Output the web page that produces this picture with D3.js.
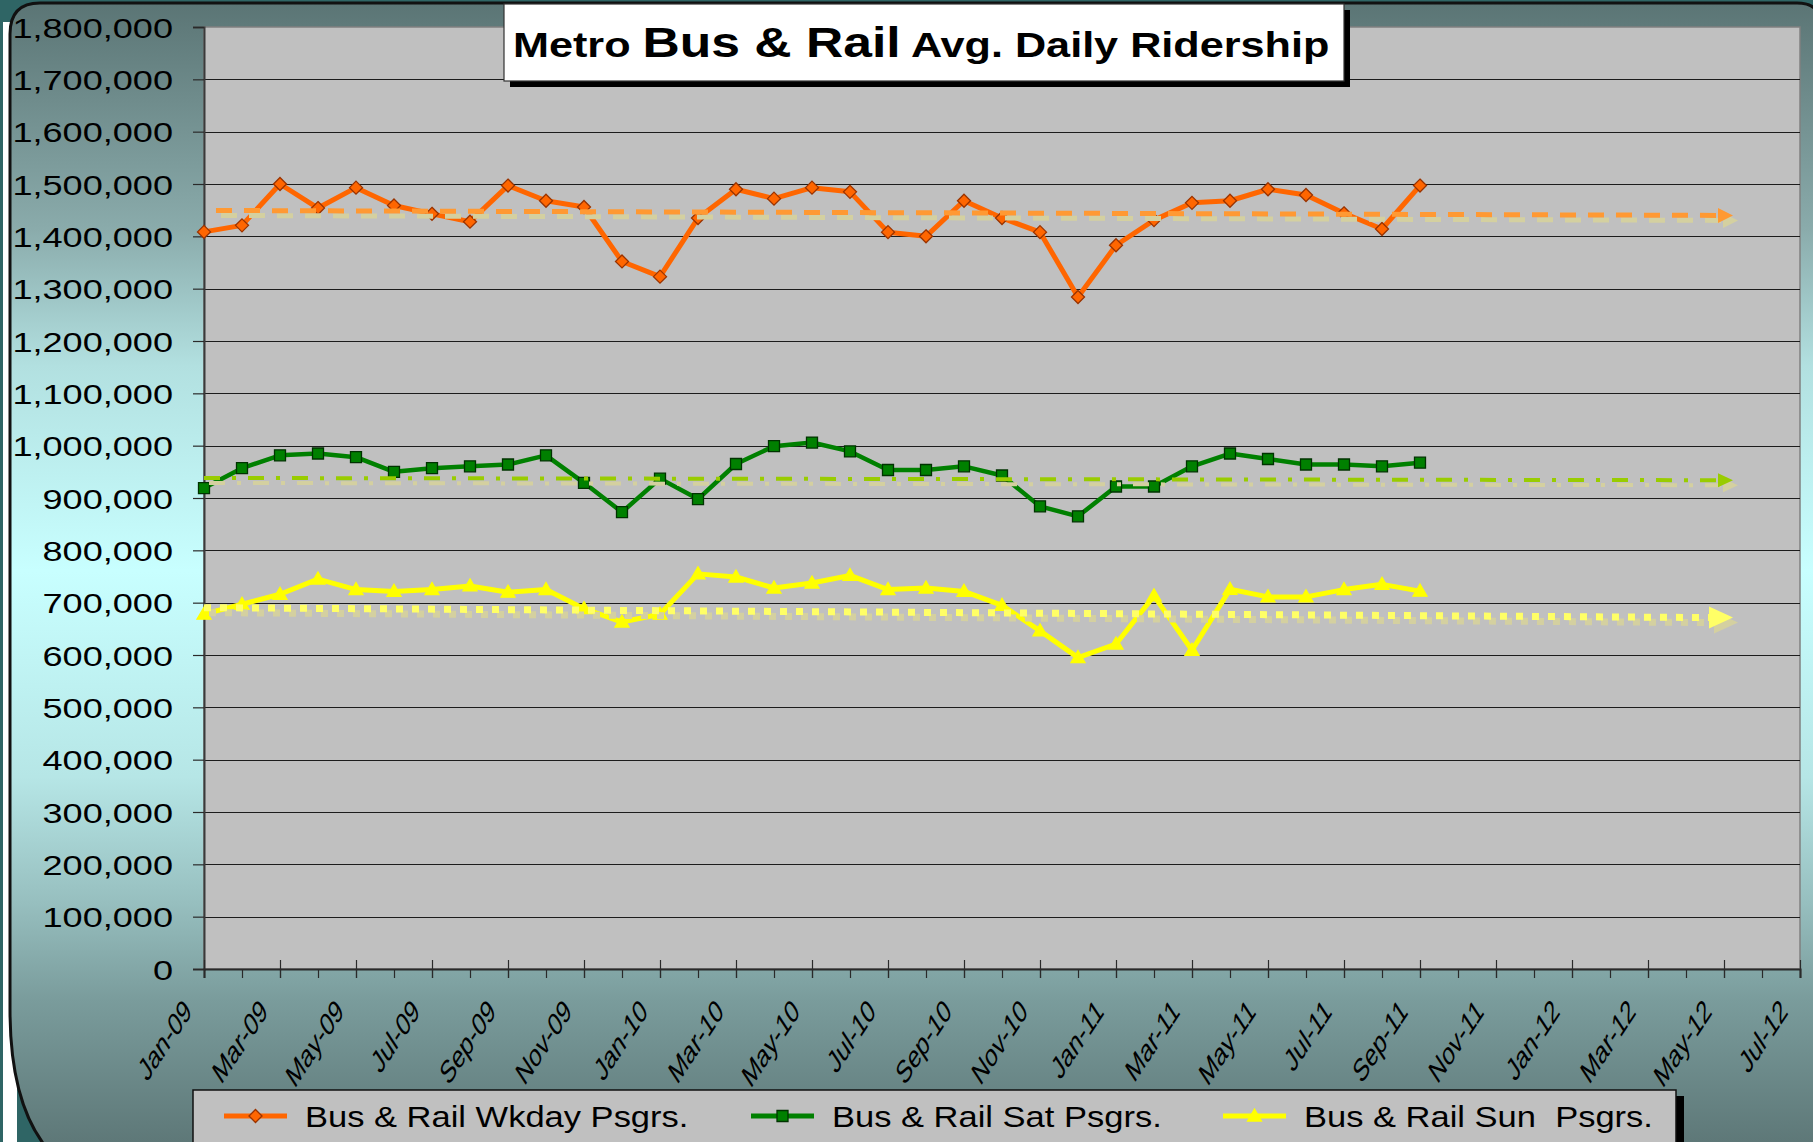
<!DOCTYPE html>
<html>
<head>
<meta charset="utf-8">
<script src="https://cdn.jsdelivr.net/npm/d3@7"></script>
<style>
  html, body { margin: 0; padding: 0; background: #2f6565; }
  svg { display: block; }
  text { font-family: "Liberation Sans", Arial, sans-serif; fill: #000; }
</style>
</head>
<body>
<div id="chart"></div>
<script>
// month categories on the date axis (Jan-09 .. Jul-12)
const axisMonths = [
  "Jan-09", "Feb-09", "Mar-09", "Apr-09", "May-09", "Jun-09", "Jul-09", "Aug-09", "Sep-09", "Oct-09", "Nov-09", "Dec-09",
  "Jan-10", "Feb-10", "Mar-10", "Apr-10", "May-10", "Jun-10", "Jul-10", "Aug-10", "Sep-10", "Oct-10", "Nov-10", "Dec-10",
  "Jan-11", "Feb-11", "Mar-11", "Apr-11", "May-11", "Jun-11", "Jul-11", "Aug-11", "Sep-11", "Oct-11", "Nov-11", "Dec-11",
  "Jan-12", "Feb-12", "Mar-12", "Apr-12", "May-12", "Jun-12", "Jul-12",
];
const tickLabels = [
  "Jan-09", "Mar-09", "May-09", "Jul-09", "Sep-09", "Nov-09",
  "Jan-10", "Mar-10", "May-10", "Jul-10", "Sep-10", "Nov-10",
  "Jan-11", "Mar-11", "May-11", "Jul-11", "Sep-11", "Nov-11",
  "Jan-12", "Mar-12", "May-12", "Jul-12",
];
const yTicks = [0, 100000, 200000, 300000, 400000, 500000, 600000, 700000, 800000, 900000,
  1000000, 1100000, 1200000, 1300000, 1400000, 1500000, 1600000, 1700000, 1800000];

// observed months
const dataMonths = axisMonths.slice(0, 33);

const wkdayRiders = [1408500, 1421000, 1500000, 1454000, 1493000, 1459000, 1443000, 1428000, 1497000, 1468000, 1456000,
  1352000, 1323000, 1435000, 1490000, 1472000, 1493000, 1485000, 1408000, 1400000, 1468000, 1435000, 1408000,
  1284000, 1383000, 1431000, 1464000, 1468000, 1490000, 1479000, 1444000, 1414000, 1497000];
const satRiders = [919000, 957000, 981500, 985000, 978000, 950000, 957000, 960500, 964000, 981500, 929000,
  873000, 937000, 898000, 965000, 999000, 1006000, 989000, 953500, 953500, 960500, 943000, 884000,
  865000, 922000, 922000, 960500, 985000, 974500, 964000, 964000, 960500, 967500];
const sunRiders = [678000, 697000, 716000, 745000, 725000, 721500, 725000, 732000, 720000, 725000, 688500,
  663000, 678000, 755000, 749000, 728000, 737500, 752000, 725000, 728000, 721500, 695000, 646000,
  595000, 621000, 713000, 609000, 725500, 711000, 711000, 725000, 735000, 722000];

// linear trend lines, start and end values
const trendMonths = ["Jan-09", "May-12"];
const wkdayTrend = [1449500, 1440000];
const satTrend = [938300, 934000];
const sunTrend = [690500, 671500];

const seriesNames = ["Bus & Rail Wkday Psgrs.", "Bus & Rail Sat Psgrs.", "Bus & Rail Sun  Psgrs."];

const W = 1813, H = 1142;
const plot = { left: 204, right: 1800, top: 27, bottom: 969 };

const svg = d3.select("#chart").append("svg").attr("width", W).attr("height", H);
const defs = svg.append("defs");

const bg = defs.append("linearGradient").attr("id", "bg")
  .attr("gradientUnits", "userSpaceOnUse").attr("x1", 0).attr("x2", 0).attr("y1", 0).attr("y2", H);
[[0, "#5a7474"], [0.2, "#8aabab"], [0.32, "#b2e0e0"], [0.5, "#c8ffff"], [0.68, "#b6e6e6"],
 [0.79, "#97bfbf"], [0.875, "#7a9c9c"], [1, "#5e7878"]].forEach(([o, c]) => {
  bg.append("stop").attr("offset", o).attr("stop-color", c);
});

// slide backdrop
svg.append("rect").attr("width", W).attr("height", H).attr("fill", "#2f6565");
svg.append("rect").attr("x", 3).attr("y", 22).attr("width", 14).attr("height", H - 22).attr("fill", "#ffffff");
svg.append("path")
  .attr("d", `M10,34 Q10,3 40,3 L1797,3 Q1822,3 1822,28 L1822,1190 L120,1190 Q10,1170 10,1010 Z`)
  .attr("fill", "url(#bg)")
  .attr("stroke", "#111")
  .attr("stroke-width", 3);

const x = d3.scalePoint().domain(axisMonths).range([plot.left, plot.right]);
const y = d3.scaleLinear().domain([0, 1800000]).range([plot.bottom, plot.top]);

// plot area
svg.append("rect")
  .attr("x", plot.left).attr("y", plot.top)
  .attr("width", plot.right - plot.left).attr("height", plot.bottom - plot.top)
  .attr("fill", "#c0c0c0").attr("stroke", "#808080").attr("stroke-width", 1.5);

svg.append("g").selectAll("line")
  .data(yTicks.filter((v) => v > 0 && v < 1800000))
  .join("line")
  .attr("x1", plot.left).attr("x2", plot.right)
  .attr("y1", (d) => Math.round(y(d)) + 0.5).attr("y2", (d) => Math.round(y(d)) + 0.5)
  .attr("stroke", "#1c1c1c").attr("stroke-width", 1.2);

// y axis
const yAxis = svg.append("g")
  .attr("transform", `translate(${plot.left},0)`)
  .call(d3.axisLeft(y).tickValues(yTicks).tickSize(11).tickFormat(d3.format(",")));
yAxis.select(".domain").attr("stroke", "#3a3a3a").attr("stroke-width", 2);
yAxis.selectAll(".tick line").attr("stroke", "#2a2a2a").attr("stroke-width", 1.2);
yAxis.selectAll(".tick text")
  .attr("x", null).attr("dy", null)
  .attr("transform", "translate(-31,10) scale(1.29,1)")
  .attr("text-anchor", "end")
  .attr("font-size", 28)
  .attr("fill", "#000");

// x axis: minor ticks every month, major ticks every second month
const xMinor = svg.append("g")
  .attr("transform", `translate(0,${plot.bottom})`)
  .call(d3.axisBottom(x).tickSize(9).tickFormat(""));
xMinor.select(".domain").attr("stroke", "#2a2a2a").attr("stroke-width", 2);
xMinor.selectAll(".tick line").attr("stroke", "#2a2a2a").attr("stroke-width", 1.2);

const xMajor = svg.append("g")
  .attr("transform", `translate(0,${plot.bottom})`)
  .call(d3.axisBottom(x).tickValues(tickLabels).tickSize(9));
xMajor.select(".domain").remove();
xMajor.selectAll(".tick line").attr("y1", -9).attr("stroke", "#2a2a2a").attr("stroke-width", 1.2);
xMajor.selectAll(".tick text")
  .attr("x", null).attr("y", null).attr("dy", null)
  .attr("transform", "translate(-11.5,44) scale(0.82,1.24) rotate(-45)")
  .attr("text-anchor", "end")
  .attr("font-size", 26)
  .attr("fill", "#000");

// markers
const markerPaths = {
  diamond: "M0,-6.5L6.5,0L0,6.5L-6.5,0Z",
  square: "M-5.5,-5.5H5.5V5.5H-5.5Z",
  triangle: "M0,-7L7,5L-7,5Z",
};

const series = [
  { name: seriesNames[0], values: wkdayRiders, color: "#ff6600", marker: "diamond", mStroke: "#993300", width: 5 },
  { name: seriesNames[1], values: satRiders, color: "#008000", marker: "square", mStroke: "#003300", width: 4.5 },
  { name: seriesNames[2], values: sunRiders, color: "#ffff00", marker: "triangle", mStroke: "#ffff00", width: 5 },
];

const line = d3.line().x((d) => x(d.month)).y((d) => y(d.value));

series.forEach((s) => {
  const pts = dataMonths.map((m, i) => ({ month: m, value: s.values[i] }));
  svg.append("path")
    .datum(pts)
    .attr("d", line)
    .attr("fill", "none")
    .attr("stroke", s.color)
    .attr("stroke-width", s.width)
    .attr("stroke-linejoin", "round");
  svg.append("g").selectAll("path")
    .data(pts)
    .join("path")
    .attr("d", markerPaths[s.marker])
    .attr("transform", (d) => `translate(${x(d.month)},${y(d.value)})`)
    .attr("fill", s.color)
    .attr("stroke", s.mStroke)
    .attr("stroke-width", 1.3);
});

// trend lines with arrow heads and a soft offset shadow
const trends = [
  { values: wkdayTrend, color: "#ff9933", dash: "16 12", offset: 16, width: 5, head: [6, 9, 7.5] },
  { values: satTrend, color: "#99cc00", dash: "16 12 4 12", offset: 0, width: 4, head: [6, 9, 7] },
  { values: sunTrend, color: "#ffff66", dash: "7 9", offset: 0, width: 7, head: [15, 9, 11] },
];
const shadowColor = "#d4d0a0";

function drawTrend(t, dx, dy, color) {
  const x0 = x(trendMonths[0]) + dx, x1 = x(trendMonths[1]) + dx;
  const y0 = y(t.values[0]) + dy, y1 = y(t.values[1]) + dy;
  const [back, fwd, half] = t.head;
  svg.append("line")
    .attr("x1", x0).attr("y1", y0).attr("x2", x1 - back).attr("y2", y1)
    .attr("stroke", color).attr("stroke-width", t.width)
    .attr("stroke-dasharray", t.dash)
    .attr("stroke-dashoffset", t.offset);
  svg.append("path")
    .attr("d", `M${x1 - back},${y1 - half}L${x1 + fwd},${y1}L${x1 - back},${y1 + half}Z`)
    .attr("fill", color);
}
trends.forEach((t) => drawTrend(t, 5, 5, shadowColor));
trends.forEach((t) => drawTrend(t, 0, 0, t.color));

// title box
svg.append("rect").attr("x", 510).attr("y", 10).attr("width", 840).attr("height", 77).attr("fill", "#000");
svg.append("rect").attr("x", 504).attr("y", 4).attr("width", 840).attr("height", 77)
  .attr("fill", "#ffffff").attr("stroke", "#333").attr("stroke-width", 1.2);
const title = svg.append("text")
  .attr("transform", `translate(513,57) scale(1.2,1)`)
  .attr("font-weight", "bold")
  .style("white-space", "pre");
title.append("tspan").attr("font-size", 36).text("Metro ");
title.append("tspan").attr("font-size", 43).text("Bus & Rail");
title.append("tspan").attr("font-size", 36).text(" Avg. Daily Ridership");

// legend
svg.append("rect").attr("x", 1676).attr("y", 1096).attr("width", 8).attr("height", 60).attr("fill", "#000");
svg.append("rect").attr("x", 193).attr("y", 1090).attr("width", 1483).attr("height", 60)
  .attr("fill", "#c0c0c0").attr("stroke", "#111").attr("stroke-width", 1.5);

const legendX = [224, 751, 1223];
series.forEach((s, i) => {
  const lx = legendX[i], ly = 1116;
  svg.append("line")
    .attr("x1", lx).attr("x2", lx + 63).attr("y1", ly).attr("y2", ly)
    .attr("stroke", s.color).attr("stroke-width", 5);
  svg.append("path")
    .attr("d", markerPaths[s.marker])
    .attr("transform", `translate(${lx + 31.5},${ly})`)
    .attr("fill", s.color).attr("stroke", s.mStroke).attr("stroke-width", 1.3);
  svg.append("text")
    .attr("transform", `translate(${lx + 81},1127) scale(1.19,1)`)
    .attr("font-size", 29)
    .style("white-space", "pre")
    .text(s.name);
});
</script>
</body>
</html>
